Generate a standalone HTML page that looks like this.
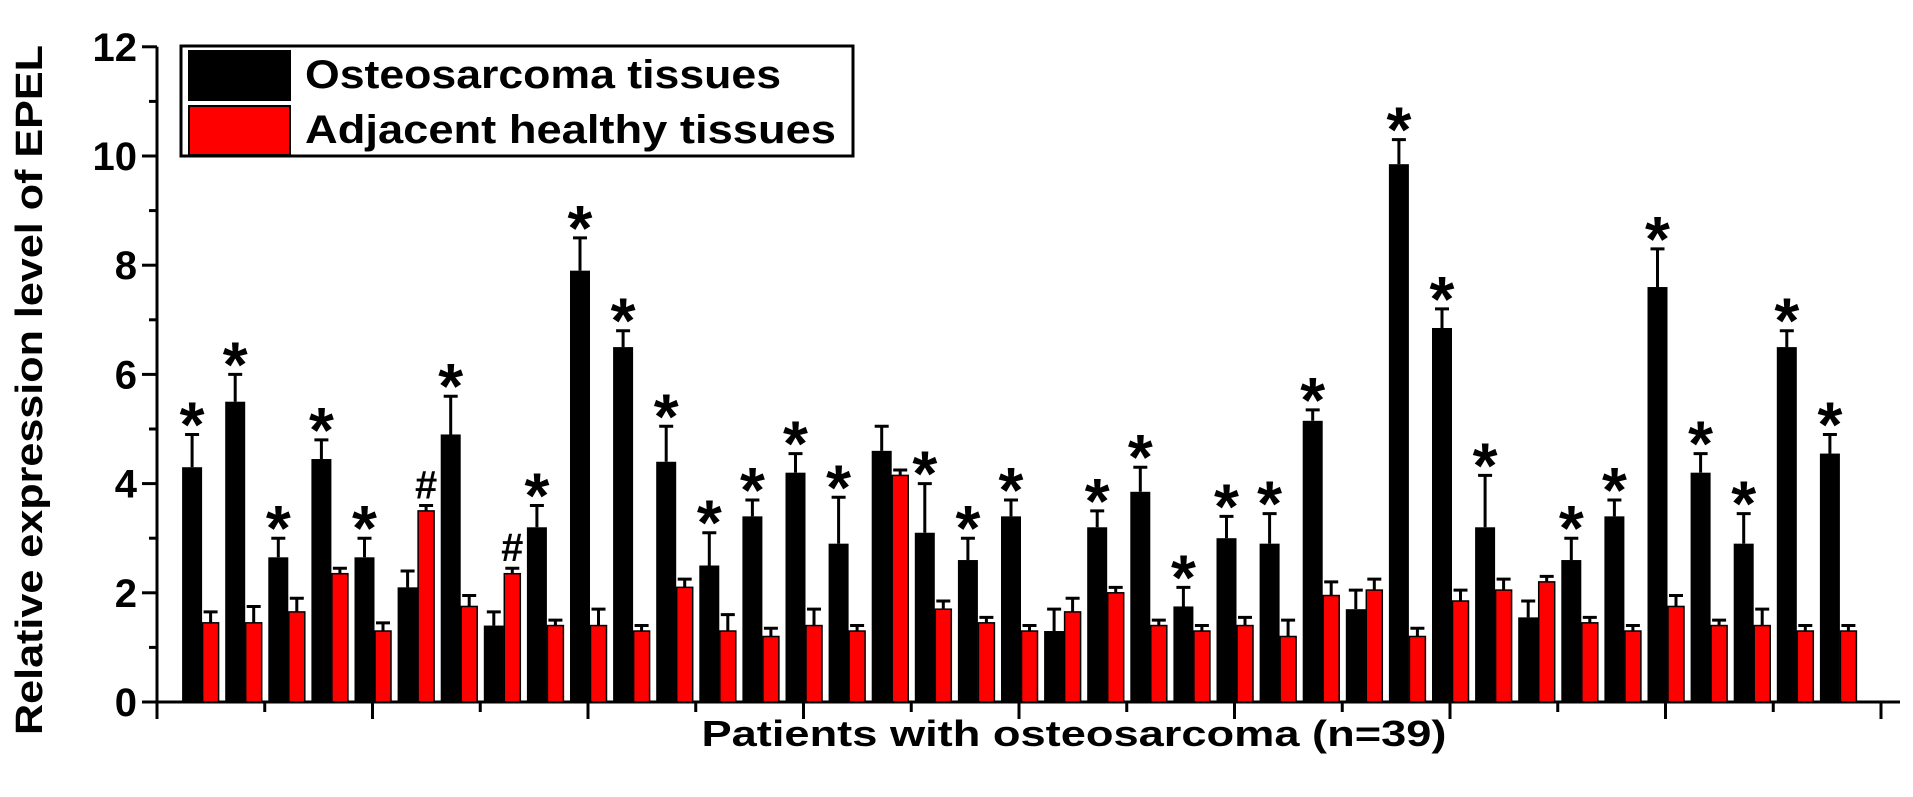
<!DOCTYPE html>
<html><head><meta charset="utf-8"><style>
html,body{margin:0;padding:0;background:#fff;}
svg{display:block;font-family:"Liberation Sans",Arial,sans-serif;font-weight:bold;}
</style></head><body>
<svg id="chart" width="1913" height="797" viewBox="0 0 1913 797">
<g id="axes"></g>
<g id="bars"></g>
<g id="legend">
<rect x="181" y="46" width="672" height="110" fill="#fff" stroke="#000" stroke-width="3"/>
<rect x="189" y="51" width="101" height="49" fill="#000" stroke="#000" stroke-width="2"/>
<rect x="189" y="106" width="101" height="49" fill="#ff0000" stroke="#000" stroke-width="2"/>
<text x="305" y="88" font-size="40" textLength="476" lengthAdjust="spacingAndGlyphs">Osteosarcoma tissues</text>
<text x="305" y="143" font-size="40" textLength="531" lengthAdjust="spacingAndGlyphs">Adjacent healthy tissues</text>
</g>
<text x="0" y="0" transform="translate(42,390) rotate(-90)" text-anchor="middle" font-size="38" textLength="690" lengthAdjust="spacingAndGlyphs">Relative expression level of EPEL</text>
<text x="1074" y="746" text-anchor="middle" font-size="36" textLength="745" lengthAdjust="spacingAndGlyphs">Patients with osteosarcoma (n=39)</text>
</svg>
<script>
const tumor = [4.3,5.5,2.65,4.45,2.65,2.1,4.9,1.4,3.2,7.9,6.5,4.4,2.5,3.4,4.2,2.9,4.6,3.1,2.6,3.4,1.3,3.2,3.85,1.75,3.0,2.9,5.15,1.7,9.85,6.85,3.2,1.55,2.6,3.4,7.6,4.2,2.9,6.5,4.55];
const tumorErr = [0.6,0.5,0.35,0.35,0.35,0.3,0.7,0.25,0.4,0.6,0.3,0.65,0.6,0.3,0.35,0.85,0.45,0.9,0.4,0.3,0.4,0.3,0.45,0.35,0.4,0.55,0.2,0.35,0.45,0.35,0.95,0.3,0.4,0.3,0.7,0.35,0.55,0.3,0.35];
const normal = [1.45,1.45,1.65,2.35,1.3,3.5,1.75,2.35,1.4,1.4,1.3,2.1,1.3,1.2,1.4,1.3,4.15,1.7,1.45,1.3,1.65,2.0,1.4,1.3,1.4,1.2,1.95,2.05,1.2,1.85,2.05,2.2,1.45,1.3,1.75,1.4,1.4,1.3,1.3];
const normalErr = [0.2,0.3,0.25,0.1,0.15,0.1,0.2,0.1,0.1,0.3,0.1,0.15,0.3,0.15,0.3,0.1,0.1,0.15,0.1,0.1,0.25,0.1,0.1,0.1,0.15,0.3,0.25,0.2,0.15,0.2,0.2,0.1,0.1,0.1,0.2,0.1,0.3,0.1,0.1];
const marks = ["*","*","*","*","*","#","*","#","*","*","*","*","*","*","*","*","","*","*","*","","*","*","*","*","*","*","","*","*","*","","*","*","*","*","*","*","*"];
const yTicks = [0,2,4,6,8,10,12];

const NS="http://www.w3.org/2000/svg";
const X0=157, XUNIT=43.1, Y0=702, YUNIT=54.6;
const xs = i => X0 + XUNIT*i;
const ys = v => Y0 - YUNIT*v;
function mk(tag, attrs, parent){const e=document.createElementNS(NS,tag);for(const k in attrs)e.setAttribute(k,attrs[k]);parent.appendChild(e);return e;}
const axes=document.getElementById('axes'), bars=document.getElementById('bars');

let yl=mk('line',{x1:X0,y1:ys(12),x2:X0,y2:Y0,stroke:'#000','stroke-width':3},axes);


for(let v=0; v<=12; v++){
  const major = v%2===0;
  const t=mk('line',{x1:X0-(major?15:8),y1:ys(v),x2:X0,y2:ys(v),stroke:'#000','stroke-width':3},axes);
  
  
}
yTicks.forEach(v=>{
  const t=mk('text',{x:X0-20,y:ys(v)+14,'text-anchor':'end','font-size':40},axes);
  t.textContent=v;
  
  
});
let xl=mk('line',{x1:X0-2,y1:Y0,x2:1900,y2:Y0,stroke:'#000','stroke-width':3},axes);


for(let k=0;k<=16;k++){
  const t=mk('line',{x1:xs(k*2.5),y1:Y0,x2:xs(k*2.5),y2:Y0+(k%2===0?17:10),stroke:'#000','stroke-width':3},axes);
  
  
}
tumor.forEach((v,i)=>{
  const c=xs(i+1);
  const te=v+tumorErr[i];
  const e1=mk('path',{d:`M${c-8},${ys(v)} V${ys(te)} M${c-15},${ys(te)} H${c-1}`,stroke:'#000','stroke-width':3,fill:'none'},bars);
  
  
  const b=mk('rect',{x:c-18,y:ys(v),width:20,height:YUNIT*v,fill:'#000'},bars);
  
  
  const n=normal[i], ne=n+normalErr[i];
  const e2=mk('path',{d:`M${c+10.5},${ys(n)} V${ys(ne)} M${c+3.5},${ys(ne)} H${c+17.5}`,stroke:'#000','stroke-width':3,fill:'none'},bars);
  
  
  const r=mk('rect',{x:c+2.5,y:ys(n),width:16,height:YUNIT*n,fill:'#ff0000',stroke:'#000','stroke-width':1.5},bars);
  
  
  if(marks[i]==='*'){
    const s=mk('text',{x:c-8,y:ys(te)+12,'text-anchor':'middle','font-size':64},bars);
    s.textContent='*';
    
    
  } else if(marks[i]==='#'){
    const s=mk('text',{x:c+10.5,y:ys(ne)-7,'text-anchor':'middle','font-size':40},bars);
    s.textContent='#';
    
    
  }
});
</script>
</body></html>
